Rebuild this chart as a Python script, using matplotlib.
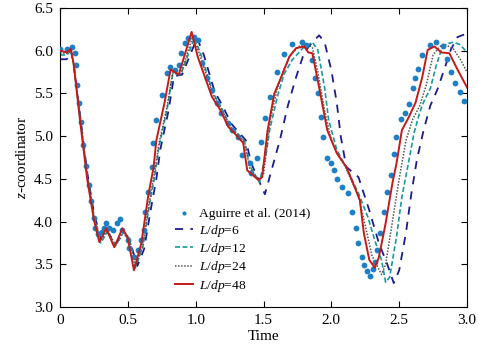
import matplotlib
matplotlib.use("Agg")
import matplotlib.pyplot as plt
import numpy as np

plt.rcParams['font.family'] = ['Liberation Serif', 'DejaVu Serif']
plt.rcParams['mathtext.fontset'] = 'custom'
plt.rcParams['mathtext.rm'] = 'Liberation Serif'
plt.rcParams['mathtext.it'] = 'Liberation Serif:italic'

# Aguirre et al. (2014) reference points
exp_t = [0, 0.05, 0.09, 0.11, 0.12, 0.125, 0.14, 0.155, 0.17, 0.19, 0.21, 0.23, 0.25, 0.26,
         0.28, 0.31, 0.325, 0.34, 0.36, 0.39, 0.42, 0.44, 0.46, 0.5, 0.51, 0.545, 0.575, 0.6,
         0.62, 0.63, 0.65, 0.675, 0.685, 0.71, 0.75, 0.785, 0.81, 0.845, 0.88, 0.895, 0.92,
         0.94, 0.99, 1.015, 1.05, 1.08, 1.12, 1.155, 1.19, 1.235, 1.27, 1.315, 1.345, 1.4,
         1.41, 1.45, 1.485, 1.51, 1.545, 1.6, 1.65, 1.71, 1.78, 1.81, 1.86, 1.88, 1.9, 1.92,
         1.94, 1.97, 2.0, 2.02, 2.04, 2.08, 2.12, 2.155, 2.18, 2.2, 2.225, 2.24, 2.26, 2.285,
         2.31, 2.32, 2.34, 2.36, 2.39, 2.41, 2.44, 2.46, 2.48, 2.51, 2.54, 2.57, 2.6, 2.62,
         2.64, 2.67, 2.73, 2.77, 2.82, 2.85, 2.88, 2.91, 2.95, 2.98]
exp_z = [6.02, 6.02, 6.04, 5.97, 5.83, 5.6, 5.39, 5.16, 4.9, 4.65, 4.43, 4.24, 4.04, 3.92,
         3.85, 3.88, 3.92, 3.98, 3.93, 3.9, 3.98, 4.03, 3.9, 3.78, 3.69, 3.58, 3.67, 3.79,
         3.9, 4.11, 4.35, 4.64, 4.92, 5.19, 5.48, 5.74, 5.81, 5.78, 5.83, 5.97, 6.09,
         6.15, 6.16, 6.13, 5.86, 5.68, 5.54, 5.39, 5.27, 5.15, 5.07, 4.99, 4.78, 4.68,
         4.57, 4.74, 4.93, 5.21, 5.46, 5.75, 5.96, 6.08, 6.1, 6.07, 5.89, 5.68, 5.5, 5.22,
         4.99, 4.75, 4.68, 4.6, 4.5, 4.4, 4.33, 4.11, 3.92, 3.75, 3.58, 3.49, 3.42, 3.36,
         3.44, 3.53, 3.67, 3.87, 4.11, 4.35, 4.55, 4.79, 4.99, 5.2, 5.27, 5.38, 5.56, 5.68,
         5.79, 5.95, 6.07, 6.1, 6.05, 5.9, 5.75, 5.62, 5.52, 5.41]

# L/dp = 48
r_t = [0, 0.05, 0.08, 0.1, 0.15, 0.2, 0.25, 0.29, 0.34, 0.40, 0.46, 0.5, 0.545, 0.6, 0.65,
       0.69, 0.71, 0.77, 0.815, 0.875, 0.97, 1.015, 1.12, 1.18, 1.24, 1.30, 1.35, 1.38, 1.46,
       1.49, 1.53, 1.58, 1.63, 1.69, 1.74, 1.80, 1.83, 1.86, 1.91, 1.97, 2.04, 2.11, 2.16,
       2.21, 2.24, 2.28, 2.32, 2.35, 2.40, 2.45, 2.48, 2.52, 2.57, 2.62, 2.67, 2.71, 2.76,
       2.81, 2.87, 2.92, 3.0]
r_z = [6.0, 5.98, 6.02, 5.85, 5.15, 4.5, 4.02, 3.76, 3.92, 3.70, 3.92, 3.8, 3.43, 3.75, 4.3,
       4.64, 4.95, 5.39, 5.78, 5.72, 6.22, 5.93, 5.46, 5.31, 5.11, 5.01, 4.92, 4.6, 4.49,
       4.52, 5.07, 5.5, 5.69, 5.93, 6.03, 6.05, 5.98, 5.97, 5.57, 5.07, 4.8, 4.64, 4.45,
       4.25, 3.86, 3.55, 3.46, 3.58, 3.98, 4.45, 4.68, 5.07, 5.22, 5.39, 5.69, 6.01, 6.05,
       5.98, 5.97, 5.81, 5.57]

# L/dp = 24
g_t = [0, 0.05, 0.08, 0.1, 0.15, 0.2, 0.25, 0.3, 0.35, 0.41, 0.47, 0.51, 0.555, 0.61, 0.66,
       0.7, 0.73, 0.79, 0.83, 0.89, 0.98, 1.03, 1.13, 1.19, 1.25, 1.31, 1.36, 1.40, 1.47,
       1.50, 1.55, 1.6, 1.65, 1.7, 1.76, 1.82, 1.86, 1.9, 1.95, 2.0, 2.05, 2.1, 2.2, 2.25,
       2.3, 2.37, 2.4, 2.45, 2.5, 2.55, 2.6, 2.65, 2.7, 2.75, 2.8, 2.83, 2.9, 2.95, 3.0]
g_z = [5.97, 5.97, 6.0, 5.85, 5.2, 4.55, 4.05, 3.78, 3.9, 3.72, 3.9, 3.8, 3.46, 3.72, 4.25,
       4.6, 4.92, 5.35, 5.74, 5.72, 6.18, 5.95, 5.48, 5.32, 5.12, 5.02, 4.93, 4.62, 4.48,
       4.55, 5.2, 5.55, 5.78, 5.95, 6.05, 6.08, 6.04, 5.75, 5.3, 4.95, 4.78, 4.65, 4.3, 3.95,
       3.6, 3.38, 3.5, 4.0, 4.5, 4.95, 5.2, 5.35, 5.6, 5.95, 6.05, 6.08, 6.02, 5.9, 5.75]

# L/dp = 12
c_t = [0, 0.05, 0.08, 0.1, 0.15, 0.2, 0.25, 0.3, 0.35, 0.41, 0.47, 0.51, 0.56, 0.61, 0.66,
       0.7, 0.73, 0.79, 0.83, 0.89, 0.99, 1.04, 1.13, 1.19, 1.25, 1.31, 1.36, 1.40, 1.47,
       1.52, 1.545, 1.6, 1.65, 1.71, 1.79, 1.86, 1.9, 1.95, 1.98, 2.04, 2.11, 2.2, 2.27,
       2.32, 2.37, 2.4, 2.43, 2.48, 2.52, 2.57, 2.61, 2.65, 2.68, 2.73, 2.77, 2.81, 2.85,
       2.9, 2.95, 3.0]
c_z = [5.95, 5.95, 6.0, 5.85, 5.2, 4.55, 4.07, 3.75, 3.88, 3.72, 3.88, 3.8, 3.48, 3.7, 4.2,
       4.55, 4.88, 5.32, 5.72, 5.72, 6.15, 5.95, 5.5, 5.33, 5.13, 5.03, 4.94, 4.65, 4.46,
       4.8, 5.07, 5.45, 5.72, 5.89, 6.03, 6.1, 6.01, 5.57, 5.19, 4.84, 4.63, 4.33, 4.05,
       3.78, 3.55, 3.29, 3.35, 3.82, 4.29, 4.7, 5.04, 5.27, 5.4, 5.56, 5.81, 6.01, 6.08,
       6.1, 6.07, 5.98]

# L/dp = 6
n_t = [0, 0.05, 0.08, 0.1, 0.15, 0.2, 0.25, 0.3, 0.35, 0.41, 0.47, 0.51, 0.57, 0.62, 0.67,
       0.71, 0.74, 0.8, 0.84, 0.9, 1.01, 1.06, 1.14, 1.2, 1.26, 1.32, 1.37, 1.41, 1.51,
       1.55, 1.62, 1.68, 1.74, 1.8, 1.86, 1.91, 1.95, 2.0, 2.04, 2.07, 2.11, 2.2, 2.28,
       2.35, 2.41, 2.46, 2.5, 2.55, 2.59, 2.63, 2.68, 2.73, 2.78, 2.83, 2.88, 2.93, 2.98, 3.0]
n_z = [5.9, 5.9, 6.0, 5.85, 5.22, 4.58, 4.1, 3.8, 3.88, 3.74, 3.86, 3.8, 3.48, 3.68, 4.15,
       4.5, 4.85, 5.3, 5.7, 5.72, 6.15, 5.95, 5.52, 5.35, 5.15, 5.04, 4.95, 4.68, 4.32,
       4.55, 4.95, 5.36, 5.69, 5.98, 6.1, 6.18, 6.1, 5.77, 5.39, 4.99, 4.64, 4.52, 4.13,
       3.75, 3.51, 3.28, 3.43, 3.87, 4.33, 4.72, 5.07, 5.36, 5.54, 5.77, 6.01, 6.16, 6.19, 6.18]

fig = plt.figure(figsize=(4.79, 3.48), dpi=100)
ax = fig.add_axes([0.1253, 0.1178, 0.8497, 0.8592])

ax.plot(exp_t, exp_z, 'o', color='#1f7fc4', markersize=4.2, markeredgewidth=0,
        label='Aguirre et al. (2014)', zorder=5)
ax.plot(n_t, n_z, color='#1c1c8c', lw=1.3, dashes=(4.5, 4), label=r'$L/dp$=6')
ax.plot(c_t, c_z, color='#1a9a9a', lw=1.2, dashes=(3, 1.5), label=r'$L/dp$=12')
ax.plot(g_t, g_z, color='#555555', lw=1.1, dashes=(1, 1), label=r'$L/dp$=24')
ax.plot(r_t, r_z, color='#c41a1a', lw=1.4, label=r'$L/dp$=48', zorder=6)

ax.set_xlim(0, 3.0)
ax.set_ylim(3.0, 6.5)
ax.set_xticks([0, 0.5, 1.0, 1.5, 2.0, 2.5, 3.0])
ax.set_xticklabels(['0', '0.5', '1.0', '1.5', '2.0', '2.5', '3.0'])
ax.set_yticks([3.0, 3.5, 4.0, 4.5, 5.0, 5.5, 6.0, 6.5])
ax.set_yticklabels(['3.0', '3.5', '4.0', '4.5', '5.0', '5.5', '6.0', '6.5'])
ax.tick_params(direction='in', top=True, right=True, length=4, width=0.8,
               labelsize=11, pad=5)
for s in ax.spines.values():
    s.set_linewidth(0.8)

ax.set_xlabel('Time', fontsize=11, labelpad=2)
ax.set_ylabel(r'$z$-coordinator', fontsize=11, labelpad=4)

ax.legend(loc='upper left', bbox_to_anchor=(0.283, 0.331), frameon=False, fontsize=9.7,
          handlelength=1.35, handletextpad=0.4, labelspacing=0.17, borderaxespad=0,
          borderpad=0, markerscale=0.7)

fig.savefig('out.png', dpi=100)
